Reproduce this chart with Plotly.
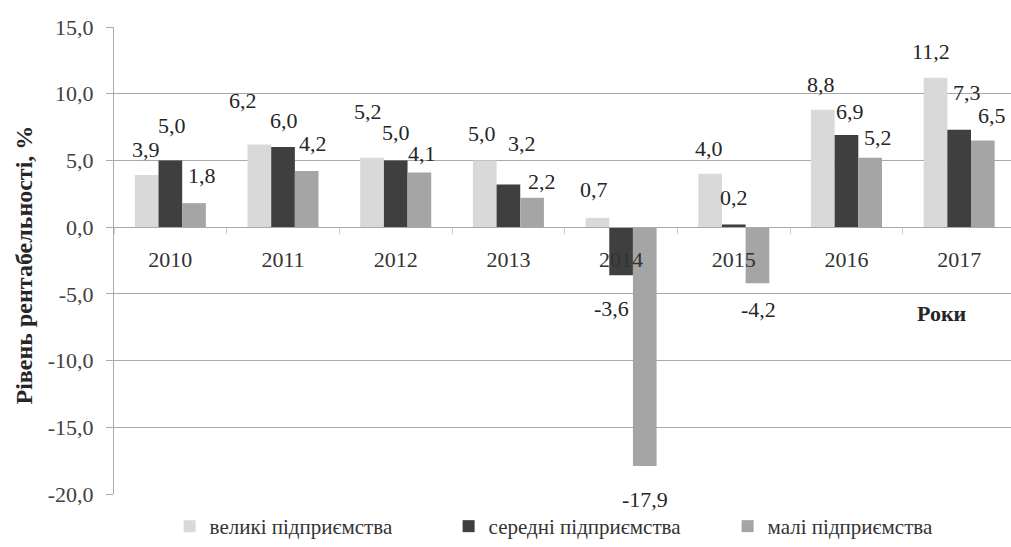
import plotly.graph_objects as go

# Рівень рентабельності підприємств за розміром, %
years = ["2010", "2011", "2012", "2013", "2014", "2015", "2016", "2017"]
large = [3.9, 6.2, 5.2, 5.0, 0.7, 4.0, 8.8, 11.2]
medium = [5.0, 6.0, 5.0, 3.2, -3.6, 0.2, 6.9, 7.3]
small = [1.8, 4.2, 4.1, 2.2, -17.9, -4.2, 5.2, 6.5]
y_ticks = [-20, -15, -10, -5, 0, 5, 10, 15]

series_names = ["великі підприємства", "середні підприємства", "малі підприємства"]
series_colors = ["#d9d9d9", "#3f3f3f", "#a5a5a5"]

# label placement in pixels: dx from the year's centre, dy from the bar's end (up > 0)
label_offsets = [
    [(-24, 26), (2, 35), (32, 28)],
    [(-40, 44), (1, 27), (30, 28)],
    [(-28, 46), (0, 28), (26, 19)],
    [(-26, 27), (14, 41), (34, 16)],
    [(-27, 28), (-10, -33), (24, -34)],
    [(-25, 25), (0, 27), (25, -26)],
    [(-25, 25), (4, 24), (32, 20)],
    [(-28, 26), (8, 37), (33, 25)],
]

FONT = "Liberation Serif"
GRID = "#a9a9a9"


def fmt(v):
    return f"{v:.1f}".replace(".", ",")


fig = go.Figure()
all_series = [large, medium, small]
for name, vals, col in zip(series_names, all_series, series_colors):
    fig.add_trace(go.Bar(x=years, y=vals, name=name, marker=dict(color=col, line=dict(width=0))))

for i, yr in enumerate(years):
    for s, vals in enumerate(all_series):
        dx, dy = label_offsets[i][s]
        fig.add_annotation(
            x=i, y=vals[i], xref="x", yref="y",
            text=fmt(vals[i]), showarrow=False,
            xanchor="center", yanchor="middle",
            xshift=dx, yshift=dy,
            font=dict(family=FONT, size=22, color="#262626"),
        )

# y-axis title
fig.add_annotation(
    x=-0.1, y=0.49, xref="paper", yref="paper",
    text="<b>Рівень рентабельності, %</b>", textangle=-90,
    showarrow=False, xanchor="center", yanchor="middle",
    font=dict(family=FONT, size=24, color="#262626"),
)
# x-axis caption
fig.add_annotation(
    x=0.923, y=0.386, xref="paper", yref="paper",
    text="<b>Роки</b>", showarrow=False,
    xanchor="center", yanchor="middle",
    font=dict(family=FONT, size=22, color="#262626"),
)

fig.update_layout(
    width=1011, height=547,
    margin=dict(l=114, r=0, t=27, b=49),
    paper_bgcolor="white", plot_bgcolor="white",
    barmode="group", bargap=0.37, bargroupgap=0,
    font=dict(family=FONT, color="#262626"),
    showlegend=True,
    legend=dict(
        orientation="h", x=0.062, y=-0.07, xanchor="left", yanchor="middle",
        font=dict(family=FONT, size=21, color="#333333"),
        itemwidth=30, traceorder="normal",
        entrywidth=234, entrywidthmode="pixels",
    ),
    xaxis=dict(
        type="category", range=[-0.5, 7.46],
        anchor="free", position=20 / 35,
        showline=True, linecolor=GRID, linewidth=1,
        ticks="outside", tickson="boundaries", ticklen=6, tickcolor="#cfcfcf",
        ticklabelstandoff=12,
        tickfont=dict(family=FONT, size=22, color="#333333"),
        showgrid=False, fixedrange=True,
    ),
    yaxis=dict(
        range=[-20, 15],
        tickvals=y_ticks, ticktext=[fmt(t) for t in y_ticks],
        showline=True, linecolor=GRID, linewidth=1,
        ticks="outside", ticklen=7, tickcolor=GRID,
        ticklabelstandoff=8,
        showgrid=True, gridcolor=GRID, gridwidth=1,
        zeroline=True, zerolinecolor=GRID, zerolinewidth=1,
        tickfont=dict(family=FONT, size=22, color="#404040"),
        fixedrange=True,
    ),
)

fig.write_html("out.html")
